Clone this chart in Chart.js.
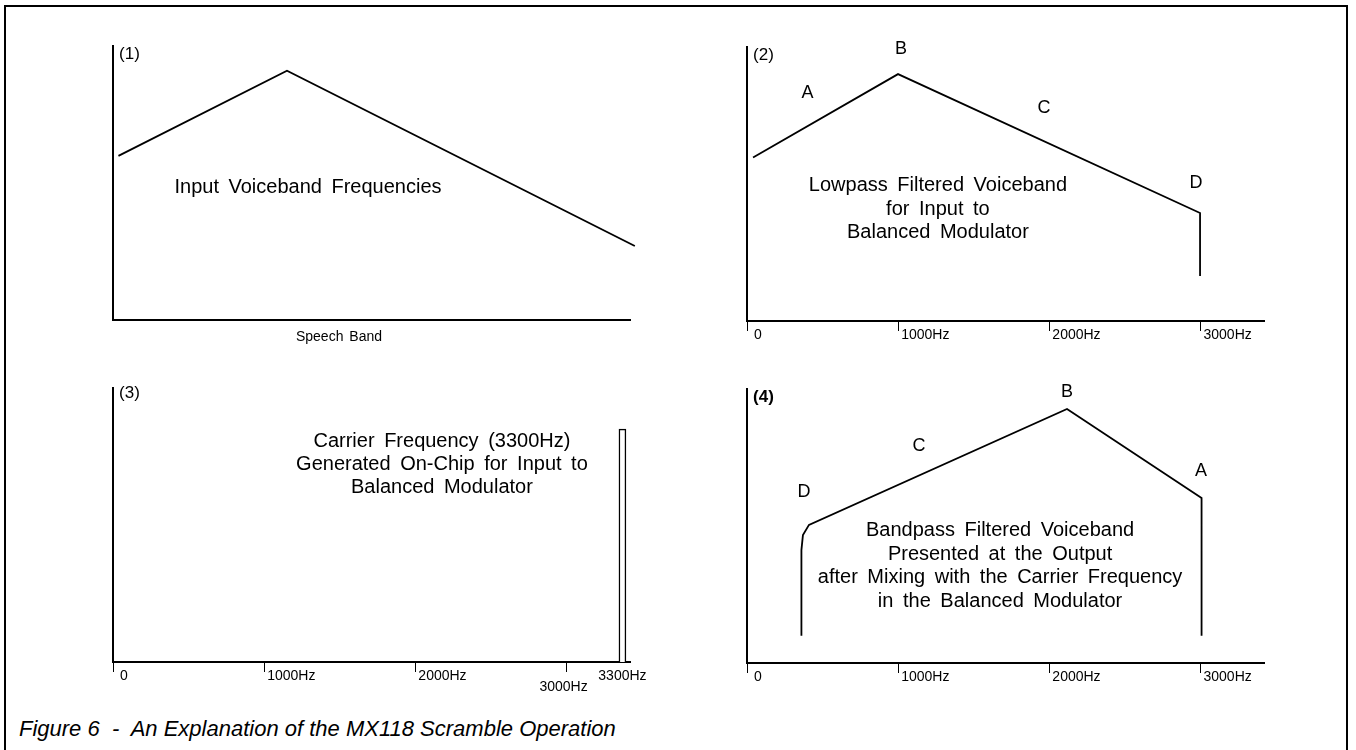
<!DOCTYPE html>
<html lang="en">
<head>
  <meta charset="UTF-8">
  <title>Figure 6 - MX118 Scramble Operation</title>
  <script src="https://cdn.jsdelivr.net/npm/chart.js"></script>
  <style>
    html, body { margin: 0; padding: 0; background: #fff; overflow: hidden; }
    body { width: 1356px; height: 750px; position: relative; font-family: "Liberation Sans", Arial, sans-serif; }
    #frame { position: absolute; left: 4px; top: 5px; width: 1340px; height: 800px; border: 2.5px solid #000; border-bottom: none; }
    canvas { position: absolute; }
    #caption { position: absolute; left: 19px; top: 716px; font-size: 22px; line-height: 26px; font-style: italic; white-space: pre; }
  </style>
</head>
<body>
  <div id="frame"></div>
  <canvas id="p1" width="545" height="330" style="left:101px;top:34px"></canvas>
  <canvas id="p2" width="545" height="330" style="left:735px;top:35px"></canvas>
  <canvas id="p3" width="545" height="330" style="left:101px;top:376px"></canvas>
  <canvas id="p4" width="545" height="330" style="left:735px;top:377px"></canvas>
  <div id="caption">Figure 6  -  An Explanation of the MX118 Scramble Operation</div>

  <script>
    // frequency axis (Hz) and relative level (0-100)
    const tickFreqs = [0, 1000, 2000, 3000];
    const tickLabels = ['0', '1000Hz', '2000Hz', '3000Hz'];

    // (1) input voiceband
    const p1Freq = [36, 1151, 3452];
    const p1Level = [59.9, 91.0, 27.0];

    // (2) lowpass filtered voiceband
    const p2Freq = [40, 999, 2997, 2997];
    const p2Level = [59.7, 90.1, 39.4, 16.4];

    // (3) carrier
    const p3CarrierFreq = [3370];
    const p3CarrierLevel = [85];
    const p3CarrierLabel = '3300Hz';

    // (4) bandpass filtered output (spectrum inverted)
    const p4Freq = [360, 360, 370, 410, 2117, 3007, 3007];
    const p4Level = [9.9, 41.2, 46.7, 50.4, 92.7, 60.2, 9.9];

    const FONT = '"Liberation Sans", Arial, Helvetica, sans-serif';
    const toPoints = (xs, ys) => xs.map((x, i) => ({ x, y: ys[i] }));

    // text drawn in data coordinates of each panel
    const notesPlugin = {
      id: 'notes',
      afterDraw(chart, args, opts) {
        const { ctx, chartArea } = chart;
        const sx = chart.scales.x, sy = chart.scales.y;
        ctx.save();
        ctx.fillStyle = '#000';
        ctx.textBaseline = 'middle';
        (opts.items || []).forEach(n => {
          ctx.font = (n.weight || 'normal') + ' ' + (n.size || 20) + 'px ' + FONT;
          ctx.textAlign = n.align || 'center';
          ctx.wordSpacing = (n.ws != null ? n.ws : 4) + 'px';
          const px = sx.getPixelForValue(n.x) + (n.dx || 0);
          const py = n.below != null ? chartArea.bottom + n.below : sy.getPixelForValue(n.y);
          [].concat(n.text).forEach((line, i) => ctx.fillText(line, px, py + i * (n.lh || 0)));
        });
        ctx.restore();
      }
    };

    const axes = (ticks) => ({
      x: {
        type: 'linear', min: 0, max: 3420, offset: false,
        afterBuildTicks: s => { s.ticks = ticks.map(v => ({ value: v })); },
        afterFit: s => { s.height = 44; },
        ticks: { display: false },
        grid: { display: ticks.length > 0, offset: false, drawOnChartArea: false, drawTicks: true, tickLength: 10, color: '#000', lineWidth: 1 },
        border: { display: true, color: '#000', width: 2 }
      },
      y: {
        min: 0, max: 100,
        afterFit: s => { s.width = 0; },
        ticks: { display: false },
        grid: { display: false },
        border: { display: true, color: '#000', width: 2 }
      }
    });

    const lineSet = (xs, ys) => ({
      data: toPoints(xs, ys),
      borderColor: '#000', borderWidth: 1.8, pointRadius: 0, fill: false, tension: 0, clip: false
    });

    const tickNotes = (vals, labels) => vals.map((v, i) => ({
      x: v, text: labels[i], below: 14, align: 'left', dx: i === 0 ? 7 : 3, size: 14, ws: 0
    }));

    const makePanel = (id, datasets, ticks, notes) => new Chart(document.getElementById(id), {
      type: 'line',
      data: { datasets },
      options: {
        responsive: false, animation: false, events: [],
        layout: { padding: { left: 12, right: 16, top: 12, bottom: 0 } },
        scales: axes(ticks),
        plugins: { legend: { display: false }, tooltip: { enabled: false }, notes: { items: notes } }
      },
      plugins: [notesPlugin]
    });

    makePanel('p1', [lineSet(p1Freq, p1Level)], [], [
      { text: '(1)', x: 40, y: 97, align: 'left', size: 17 },
      { text: 'Input Voiceband Frequencies', x: 1290, y: 48.2 },
      { text: 'Speech Band', x: 1495, below: 17, size: 14, ws: 2 }
    ]);

    makePanel('p2', [lineSet(p2Freq, p2Level)], tickFreqs, [
      { text: '(2)', x: 40, y: 97, align: 'left', size: 17 },
      { text: 'A', x: 400, y: 83.2, size: 18 },
      { text: 'B', x: 1019, y: 99.3, size: 18 },
      { text: 'C', x: 1965, y: 77.7, size: 18 },
      { text: 'D', x: 2970, y: 50.4, size: 18 },
      { text: ['Lowpass Filtered Voiceband', 'for Input to', 'Balanced Modulator'], x: 1263, y: 49.3, lh: 23.5 }
    ].concat(tickNotes(tickFreqs, tickLabels)));

    makePanel('p3', [{
      type: 'bar',
      data: toPoints(p3CarrierFreq, p3CarrierLevel),
      barThickness: 7, borderWidth: 1.5, borderColor: '#000', backgroundColor: '#fff'
    }], tickFreqs, [
      { text: '(3)', x: 40, y: 98.2, align: 'left', size: 17 },
      { text: ['Carrier Frequency (3300Hz)', 'Generated On-Chip for Input to', 'Balanced Modulator'], x: 2176, y: 80.3, lh: 23 }
    ].concat(tickNotes(tickFreqs.slice(0, 3), tickLabels.slice(0, 3)), [
      { x: tickFreqs[3], text: tickLabels[3], below: 25, dx: -3, size: 14, ws: 0 },
      { x: p3CarrierFreq[0], text: p3CarrierLabel, below: 14, size: 14, ws: 0 }
    ]));

    makePanel('p4', [lineSet(p4Freq, p4Level)], tickFreqs, [
      { text: '(4)', x: 40, y: 97, align: 'left', size: 17, weight: 'bold' },
      { text: 'D', x: 377, y: 62.4, size: 18 },
      { text: 'C', x: 1138, y: 79.2, size: 18 },
      { text: 'B', x: 2117, y: 98.9, size: 18 },
      { text: 'A', x: 3003, y: 70.1, size: 18 },
      { text: ['Bandpass Filtered Voiceband', 'Presented at the Output', 'after Mixing with the Carrier Frequency', 'in the Balanced Modulator'], x: 1674, y: 48.2, lh: 23.5 }
    ].concat(tickNotes(tickFreqs, tickLabels)));
  </script>
</body>
</html>
